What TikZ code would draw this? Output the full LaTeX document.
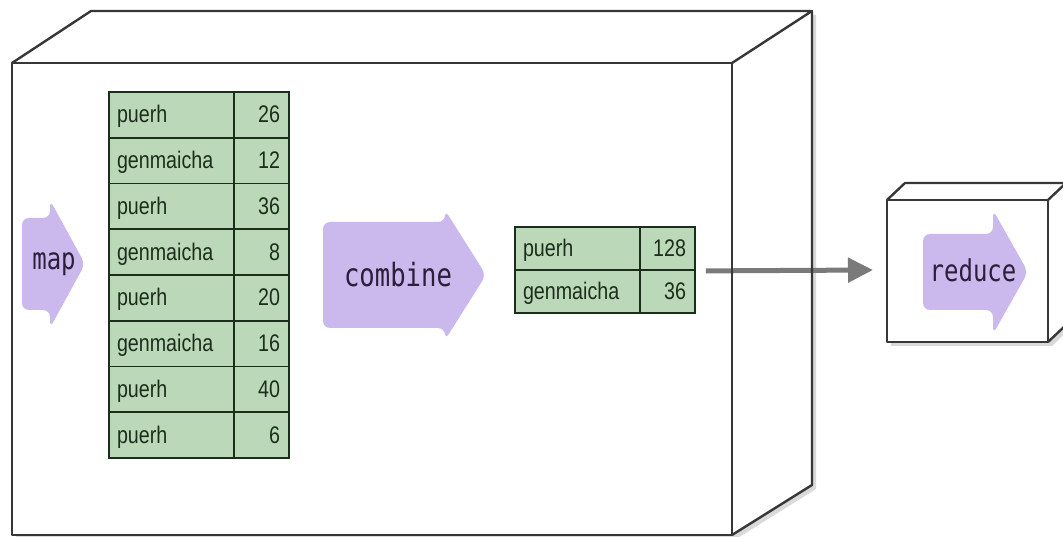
\documentclass[tikz,border=0pt]{standalone}
\usepackage{fontspec}
\usetikzlibrary{arrows.meta,shadows}
\newfontfamily\cellfont[FakeStretch=0.82]{Liberation Sans}
\newfontfamily\codefont[FakeStretch=0.8]{DejaVu Sans Mono}
\definecolor{cellgreen}{RGB}{187,217,184}
\definecolor{celledge}{RGB}{28,45,28}
\definecolor{lavender}{RGB}{203,184,236}
\definecolor{stepink}{RGB}{45,30,60}
\definecolor{boxedge}{RGB}{55,55,55}
\definecolor{flowgray}{RGB}{122,122,122}

\begin{document}
\begin{tikzpicture}[x=1pt,y=-1pt,
  cell/.style={draw=celledge, line width=1.8pt, fill=cellgreen, text=celledge,
    inner ysep=0pt, text height=18pt, text depth=2pt,
    font=\cellfont\fontsize{24}{26}\selectfont},
  keycell/.style={cell, minimum width=125pt, inner xsep=8pt, text width=109pt, align=left},
  valcell/.style={cell, minimum width=55pt, inner xsep=9pt, text width=37pt, align=right},
  procarrow/.style={fill=lavender, rounded corners=7pt},
  steplabel/.style={text=stepink, font=\codefont\fontsize{30}{32}\selectfont},
  boxline/.style={draw=boxedge, line width=2.4pt, line join=round},
  boxshadow/.style={drop shadow={shadow xshift=4pt, shadow yshift=-4pt, opacity=0.3}},
  flow/.style={draw=flowgray, line width=5pt, -{Triangle[length=25pt,width=24pt]}}]
\useasboundingbox (0,0) rectangle (1063,537);

% big box: white faces first, edges later
\fill[white, boxshadow] (12,63) -- (91,11) -- (812,11) -- (812,485) -- (732,535) -- (12,535) -- cycle;

% map arrow
\fill[procarrow] (22,218) -- (50,218) -- (50,200) -- (85,264) -- (50,328) -- (50,310) -- (22,310) -- cycle;
\node[steplabel] (map) at (54,264) {map};

% mapper output
\foreach \i/\key/\val in {1/puerh/26, 2/genmaicha/12, 3/puerh/36, 4/genmaicha/8,
                          5/puerh/20, 6/genmaicha/16, 7/puerh/40, 8/puerh/6} {
  \node[keycell, minimum height=45.75pt] (k\i) at (171.5, 92+45.75*\i-22.875) {\key};
  \node[valcell, minimum height=45.75pt] (v\i) at (261.5, 92+45.75*\i-22.875) {\val};
}

% combine arrow
\fill[procarrow] (323,222) -- (445,222) -- (445,210) -- (486,275) -- (445,340) -- (445,328) -- (323,328) -- cycle;
\node[steplabel, font=\codefont\fontsize{32}{34}\selectfont] (combine) at (398,275) {combine};

% combiner output
\node[keycell, minimum height=43pt] (s1) at (577.5,248.5) {puerh};
\node[valcell, minimum height=43pt] (sv1) at (667.5,248.5) {128};
\node[keycell, minimum height=43pt] (s2) at (577.5,291.5) {genmaicha};
\node[valcell, minimum height=43pt] (sv2) at (667.5,291.5) {36};

% hand over to the reducer
\coordinate (rbox) at (873,270);
\draw[flow] ([xshift=10pt]sv1.south east) -- (rbox);

% big box edges
\draw[boxline] (12,63) rectangle (732,535);
\draw[boxline] (12,63) -- (91,11) -- (812,11) -- (732,63);
\draw[boxline] (812,11) -- (812,485) -- (732,535);

% reduce box
\fill[white, boxshadow] (887,200) -- (905,183) -- (1066,183) -- (1066,325) -- (1048,342) -- (887,342) -- cycle;
\draw[boxline] (887,200) rectangle (1048,342);
\draw[boxline] (887,200) -- (905,183) -- (1066,183) -- (1048,200);
\draw[boxline] (1066,183) -- (1066,325) -- (1048,342);
\fill[procarrow] (923,234) -- (993,234) -- (993,210) -- (1028,272) -- (993,334) -- (993,310) -- (923,310) -- cycle;
\node[steplabel] (reduce) at (973,270) {reduce};
\end{tikzpicture}
\end{document}
